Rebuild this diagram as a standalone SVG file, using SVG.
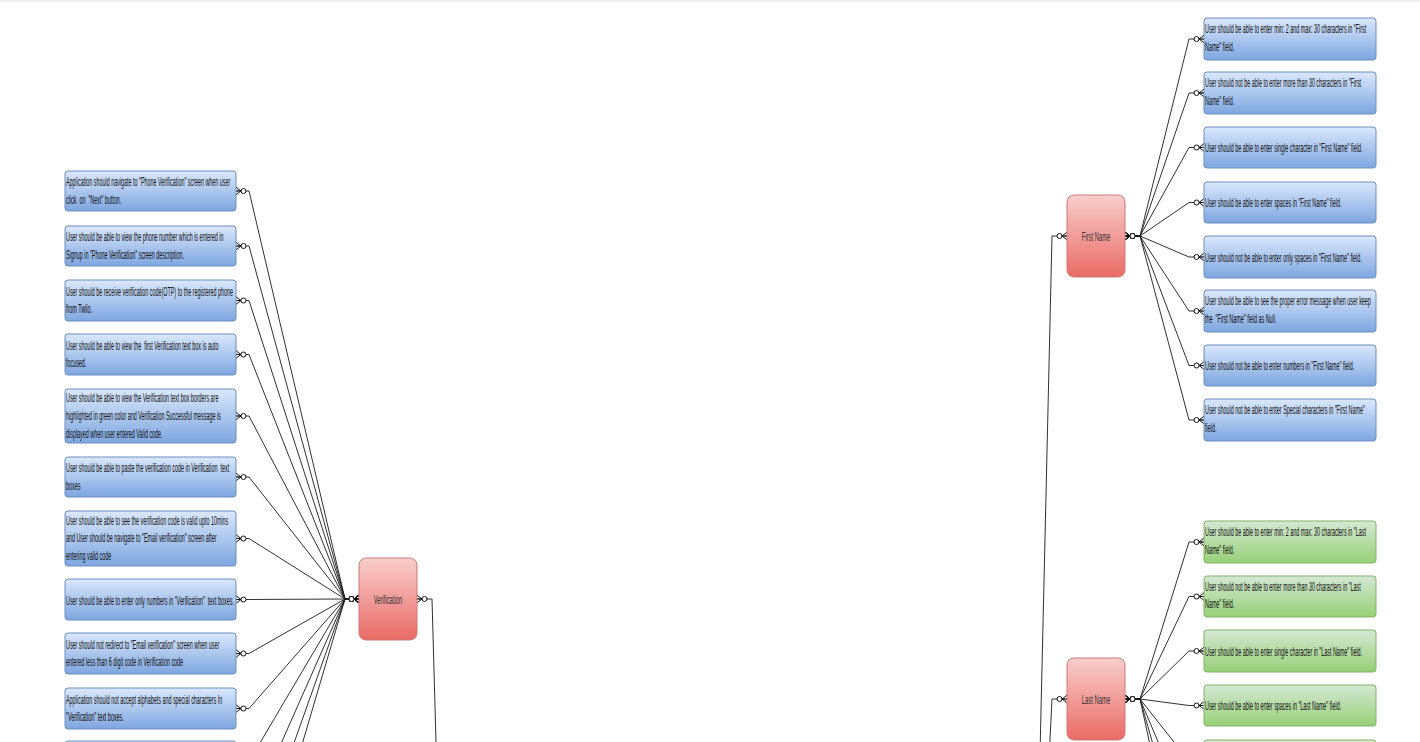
<svg xmlns="http://www.w3.org/2000/svg" width="1420" height="742" viewBox="0 0 1420 742">
<style>
.t{font-family:"Liberation Sans",Arial,sans-serif;font-size:12.4px;fill:#111;white-space:pre}
.lbl{font-family:"Liberation Sans",Arial,sans-serif;font-size:13px;fill:#333;text-anchor:middle}
.blue{fill:url(#gBlue);stroke:#6c8ebf;stroke-width:1}
.green{fill:url(#gGreen);stroke:#82b366;stroke-width:1}
.red{fill:url(#gRed);stroke:#c87b78;stroke-width:1}
.c{fill:none;stroke:#1a1a1a;stroke-width:0.9;marker-start:url(#er);marker-end:url(#er)}
</style>
<defs>
<linearGradient id="gBlue" x1="0" y1="0" x2="0" y2="1"><stop offset="0" stop-color="#dae8fc"/><stop offset="1" stop-color="#7ea6e0"/></linearGradient>
<linearGradient id="gGreen" x1="0" y1="0" x2="0" y2="1"><stop offset="0" stop-color="#d5e8d4"/><stop offset="1" stop-color="#97d077"/></linearGradient>
<linearGradient id="gRed" x1="0" y1="0" x2="0" y2="1"><stop offset="0" stop-color="#f8cecc"/><stop offset="1" stop-color="#ea6b66"/></linearGradient>
<marker id="er" viewBox="0 0 13 8" refX="13" refY="4" markerWidth="13" markerHeight="8" markerUnits="userSpaceOnUse" orient="auto-start-reverse" overflow="visible">
<path d="M13,0.2 L8,4 L13,7.8 M8,4 L13,4" fill="none" stroke="#111" stroke-width="1"/>
<circle cx="5.5" cy="4" r="2.5" fill="#fff" stroke="#111" stroke-width="1"/>
</marker>
</defs>
<rect x="0" y="0" width="1420" height="742" fill="#fff"/>
<rect x="0" y="0" width="1420" height="2" fill="#f0f0f0"/>

<g id="connectors">
<path class="c" d="M236,191 L249,191 L345,599 L359,599"/>
<path class="c" d="M236,246 L249,246 L345,599 L359,599"/>
<path class="c" d="M236,300.5 L249,300.5 L345,599 L359,599"/>
<path class="c" d="M236,354.5 L249,354.5 L345,599 L359,599"/>
<path class="c" d="M236,416 L249,416 L345,599 L359,599"/>
<path class="c" d="M236,477 L249,477 L345,599 L359,599"/>
<path class="c" d="M236,538.5 L249,538.5 L345,599 L359,599"/>
<path class="c" d="M236,599.5 L249,599.5 L345,599 L359,599"/>
<path class="c" d="M236,653.5 L249,653.5 L345,599 L359,599"/>
<path class="c" d="M236,708.5 L249,708.5 L345,599 L359,599"/>
<path class="c" d="M236,761.5 L249,761.5 L345,599 L359,599"/>
<path class="c" d="M236,816 L249,816 L345,599 L359,599"/>
<path class="c" d="M236,870 L249,870 L345,599 L359,599"/>
<path class="c" d="M236,924 L249,924 L345,599 L359,599"/>
<path class="c" d="M417,599 L432,599 L441,920 L455,920"/>

<path class="c" d="M1125,236 L1140,236 L1189,39 L1204,39"/>
<path class="c" d="M1125,236 L1140,236 L1189,93 L1204,93"/>
<path class="c" d="M1125,236 L1140,236 L1189,147.5 L1204,147.5"/>
<path class="c" d="M1125,236 L1140,236 L1189,202.5 L1204,202.5"/>
<path class="c" d="M1125,236 L1140,236 L1189,257 L1204,257"/>
<path class="c" d="M1125,236 L1140,236 L1189,311 L1204,311"/>
<path class="c" d="M1125,236 L1140,236 L1189,365.5 L1204,365.5"/>
<path class="c" d="M1125,236 L1140,236 L1189,420 L1204,420"/>

<path class="c" d="M1125,699 L1140,699 L1189,542 L1204,542"/>
<path class="c" d="M1125,699 L1140,699 L1189,596.5 L1204,596.5"/>
<path class="c" d="M1125,699 L1140,699 L1189,651 L1204,651"/>
<path class="c" d="M1125,699 L1140,699 L1189,705.5 L1204,705.5"/>
<path class="c" d="M1125,699 L1140,699 L1189,761 L1204,761"/>
<path class="c" d="M1125,699 L1140,699 L1189,815 L1204,815"/>
<path class="c" d="M1125,699 L1140,699 L1189,870 L1204,870"/>
<path class="c" d="M1125,699 L1140,699 L1189,924 L1204,924"/>

<path class="c" d="M1067,236 L1052,236 L1032,1100 L1018,1100"/>
<path class="c" d="M1067,699 L1052,699 L1032,1100 L1018,1100"/>
</g>

<g id="verification"><rect class="red" x="359" y="558" width="58" height="82" rx="7"/><text class="lbl" transform="translate(388,603.5) scale(0.45,1)">Verification</text></g>
<g id="first-name"><rect class="red" x="1067" y="195" width="58" height="82" rx="7"/><text class="lbl" transform="translate(1096,240.5) scale(0.45,1)">First Name</text></g>
<g id="last-name"><rect class="red" x="1067" y="658" width="58" height="82" rx="7"/><text class="lbl" transform="translate(1096,703.5) scale(0.45,1)">Last Name</text></g>

<g id="v1"><rect class="blue" x="65" y="171" width="171" height="40" rx="3"/><text class="t" transform="translate(66,186) scale(0.435,1)"><tspan x="0">Application should navigate to "Phone Verification" screen when user</tspan><tspan x="0" dy="18">click  on  "Next" button.</tspan></text></g>
<g id="v2"><rect class="blue" x="65" y="226" width="171" height="40" rx="3"/><text class="t" transform="translate(66,241) scale(0.435,1)"><tspan x="0">User should be able to view the phone number which is entered in</tspan><tspan x="0" dy="18">Signup in "Phone Verification" screen description.</tspan></text></g>
<g id="v3"><rect class="blue" x="65" y="280" width="171" height="41" rx="3"/><text class="t" transform="translate(66,295.5) scale(0.435,1)"><tspan x="0">User should be receive verification code(OTP) to the registered phone</tspan><tspan x="0" dy="18">from Twilo.</tspan></text></g>
<g id="v4"><rect class="blue" x="65" y="334" width="171" height="41" rx="3"/><text class="t" transform="translate(66,349.5) scale(0.435,1)"><tspan x="0">User should be able to view the  first Verification text box is auto</tspan><tspan x="0" dy="18">focused.</tspan></text></g>
<g id="v5"><rect class="blue" x="65" y="389" width="171" height="54" rx="3"/><text class="t" transform="translate(66,402) scale(0.435,1)"><tspan x="0">User should be able to view the Verification text box borders are</tspan><tspan x="0" dy="18">highlighted in green color and Verification Successful message is</tspan><tspan x="0" dy="18">displayed when user entered Valid code.</tspan></text></g>
<g id="v6"><rect class="blue" x="65" y="457" width="171" height="40" rx="3"/><text class="t" transform="translate(66,472) scale(0.435,1)"><tspan x="0">User should be able to paste the verification code in Verification  text</tspan><tspan x="0" dy="18">boxes</tspan></text></g>
<g id="v7"><rect class="blue" x="65" y="511" width="171" height="55" rx="3"/><text class="t" transform="translate(66,524.5) scale(0.435,1)"><tspan x="0">User should be able to see the verification code is valid upto 10mins</tspan><tspan x="0" dy="18">and User should be navigate to "Email verification" screen after</tspan><tspan x="0" dy="18">entering valid code</tspan></text></g>
<g id="v8"><rect class="blue" x="65" y="579" width="171" height="41" rx="3"/><text class="t" transform="translate(66,604.5) scale(0.435,1)">User should be able to enter only numbers in "Verification"  text boxes.</text></g>
<g id="v9"><rect class="blue" x="65" y="633" width="171" height="41" rx="3"/><text class="t" transform="translate(66,648.5) scale(0.435,1)"><tspan x="0">User should not redirect to "Email verification" screen when user</tspan><tspan x="0" dy="18">entered less than 6 digit code in Verification code</tspan></text></g>
<g id="v10"><rect class="blue" x="65" y="688" width="171" height="41" rx="3"/><text class="t" transform="translate(66,703.5) scale(0.435,1)"><tspan x="0">Application should not accept alphabets and special characters In</tspan><tspan x="0" dy="18">"Verification" text boxes.</tspan></text></g>
<g id="v11"><rect class="blue" x="65" y="741" width="171" height="41" rx="3"/></g>

<g id="f1"><rect class="blue" x="1204" y="18" width="172" height="42" rx="3"/><text class="t" transform="translate(1205,33) scale(0.435,1)"><tspan x="0">User should be able to enter min: 2 and max: 30 characters in "First</tspan><tspan x="0" dy="18">Name" field.</tspan></text></g>
<g id="f2"><rect class="blue" x="1204" y="72" width="172" height="42" rx="3"/><text class="t" transform="translate(1205,87) scale(0.435,1)"><tspan x="0">User should not be able to enter more than 30 characters in "First</tspan><tspan x="0" dy="18">Name" field.</tspan></text></g>
<g id="f3"><rect class="blue" x="1204" y="127" width="172" height="41" rx="3"/><text class="t" transform="translate(1205,152) scale(0.435,1)">User should be able to enter single character in "First Name" field.</text></g>
<g id="f4"><rect class="blue" x="1204" y="182" width="172" height="41" rx="3"/><text class="t" transform="translate(1205,207) scale(0.435,1)">User should be able to enter spaces in "First Name" field.</text></g>
<g id="f5"><rect class="blue" x="1204" y="236" width="172" height="42" rx="3"/><text class="t" transform="translate(1205,261.5) scale(0.435,1)">User should not be able to enter only spaces in "First Name" field.</text></g>
<g id="f6"><rect class="blue" x="1204" y="290" width="172" height="42" rx="3"/><text class="t" transform="translate(1205,305) scale(0.435,1)"><tspan x="0">User should be able to see the proper error message when user keep</tspan><tspan x="0" dy="18">the  "First Name" field as Null.</tspan></text></g>
<g id="f7"><rect class="blue" x="1204" y="345" width="172" height="41" rx="3"/><text class="t" transform="translate(1205,370) scale(0.435,1)">User should not be able to enter numbers in "First Name" field.</text></g>
<g id="f8"><rect class="blue" x="1204" y="399" width="172" height="42" rx="3"/><text class="t" transform="translate(1205,414) scale(0.435,1)"><tspan x="0">User should not be able to enter Special characters in "First Name"</tspan><tspan x="0" dy="18">field.</tspan></text></g>

<g id="l1"><rect class="green" x="1204" y="521" width="172" height="42" rx="3"/><text class="t" transform="translate(1205,536) scale(0.435,1)"><tspan x="0">User should be able to enter min: 2 and max: 30 characters in "Last</tspan><tspan x="0" dy="18">Name" field.</tspan></text></g>
<g id="l2"><rect class="green" x="1204" y="576" width="172" height="41" rx="3"/><text class="t" transform="translate(1205,590.5) scale(0.435,1)"><tspan x="0">User should not be able to enter more than 30 characters in "Last</tspan><tspan x="0" dy="18">Name" field.</tspan></text></g>
<g id="l3"><rect class="green" x="1204" y="630" width="172" height="42" rx="3"/><text class="t" transform="translate(1205,655.5) scale(0.435,1)">User should be able to enter single character in "Last Name" field.</text></g>
<g id="l4"><rect class="green" x="1204" y="685" width="172" height="41" rx="3"/><text class="t" transform="translate(1205,710) scale(0.435,1)">User should be able to enter spaces in "Last Name" field.</text></g>
<g id="l5"><rect class="green" x="1204" y="740" width="172" height="42" rx="3"/></g>
</svg>
